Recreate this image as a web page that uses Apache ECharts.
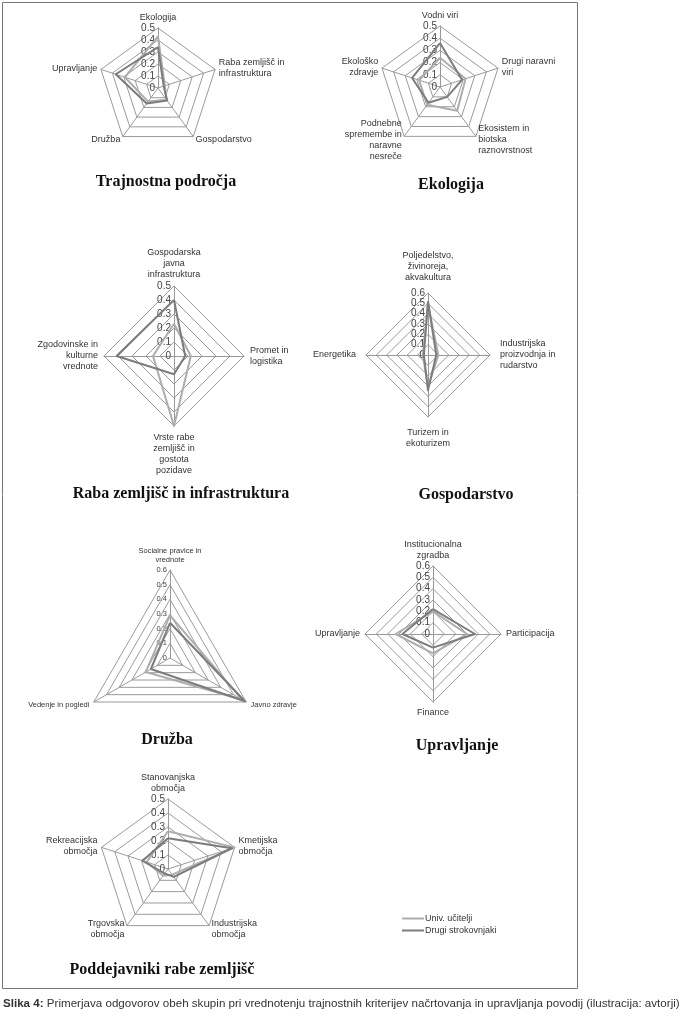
<!DOCTYPE html>
<html>
<head>
<meta charset="utf-8">
<script src="https://cdn.jsdelivr.net/npm/echarts@6/dist/echarts.min.js"></script>
<style>
  html, body { margin: 0; padding: 0; background: #fff; }
  #chart { width: 687px; height: 1021px; }
</style>
</head>
<body>
<div id="chart"></div>
<script>
// legenda
const seriesNames = ['Univ. učitelji', 'Drugi strokovnjaki'];

// Trajnostna področja
const trajAxes = ['Ekologija', 'Raba zemljišč in\ninfrastruktura', 'Gospodarstvo', 'Družba', 'Upravljanje'];
const trajUniv = [0.43, 0.06, 0.12, 0.14, 0.29];
const trajDrugi = [0.34, 0.05, 0.13, 0.16, 0.37];

// Ekologija
const ekoAxes = ['Vodni viri', 'Drugi naravni\nviri', 'Ekosistem in\nbiotska\nraznovrstnost', 'Podnebne\nspremembe in\nnaravne\nnesreče', 'Ekološko\nzdravje'];
const ekoUniv = [0.24, 0.22, 0.24, 0.18, 0.18];
const ekoDrugi = [0.36, 0.19, 0.10, 0.16, 0.24];

// Raba zemljišč in infrastruktura
const rabaAxes = ['Gospodarska\njavna\ninfrastruktura', 'Promet in\nlogistika', 'Vrste rabe\nzemljišč in\ngostota\npozidave', 'Zgodovinske in\nkulturne\nvrednote'];
const rabaUniv = [0.23, 0.12, 0.50, 0.15];
const rabaDrugi = [0.40, 0.08, 0.13, 0.41];

// Gospodarstvo
const gospAxes = ['Poljedelstvo,\nživinoreja,\nakvakultura', 'Industrijska\nproizvodnja in\nrudarstvo', 'Turizem in\nekoturizem', 'Energetika'];
const gospUniv = [0.49, 0.10, 0.31, 0.05];
const gospDrugi = [0.52, 0.08, 0.34, 0.04];

// Družba
const druzAxes = ['Socialne pravice in\nvrednote', 'Javno zdravje', 'Vedenje in pogledi'];
const druzUniv = [0.29, 0.57, 0.19];
const druzDrugi = [0.24, 0.59, 0.15];

// Upravljanje
const uprAxes = ['Institucionalna\nzgradba', 'Participacija', 'Finance', 'Upravljanje'];
const uprUniv = [0.20, 0.30, 0.17, 0.33];
const uprDrugi = [0.22, 0.37, 0.12, 0.27];

// Poddejavniki rabe zemljišč
const podAxes = ['Stanovanjska\nobmočja', 'Kmetijska\nobmočja', 'Industrijska\nobmočja', 'Trgovska\nobmočja', 'Rekreacijska\nobmočja'];
const podUniv = [0.27, 0.50, 0.05, 0.06, 0.16];
const podDrugi = [0.22, 0.48, 0.07, 0.04, 0.19];

const colors = ['#adadad', '#7c7c7c'];
const sans = "'Liberation Sans', Arial, sans-serif";

const panels = [
  { title: 'Trajnostna področja', axes: trajAxes, univ: trajUniv, drugi: trajDrugi, max: 0.5,
    center: [158, 88], radius: 60, titleAt: [166, 182], nameGap: 4, nameSize: 9, tickSize: 10 },
  { title: 'Ekologija', axes: ekoAxes, univ: ekoUniv, drugi: ekoDrugi, max: 0.5,
    center: [440, 87], radius: 61, titleAt: [451, 185], nameGap: 4, nameSize: 9, tickSize: 10 },
  { title: 'Raba zemljišč in infrastruktura', axes: rabaAxes, univ: rabaUniv, drugi: rabaDrugi, max: 0.5,
    center: [174, 356], radius: 70, titleAt: [181, 494], nameGap: 6, nameSize: 9, tickSize: 10 },
  { title: 'Gospodarstvo', axes: gospAxes, univ: gospUniv, drugi: gospDrugi, max: 0.6,
    center: [428, 355], radius: 62, titleAt: [466, 495], nameGap: 10, nameSize: 9, tickSize: 10 },
  { title: 'Družba', axes: druzAxes, univ: druzUniv, drugi: druzDrugi, max: 0.6,
    center: [170, 658], radius: 88, titleAt: [167, 740], nameGap: 5, nameSize: 7.5, tickSize: 7.5 },
  { title: 'Upravljanje', axes: uprAxes, univ: uprUniv, drugi: uprDrugi, max: 0.6,
    center: [433, 634], radius: 68, titleAt: [457, 746], nameGap: 5, nameSize: 9, tickSize: 10 },
  { title: 'Poddejavniki rabe zemljišč', axes: podAxes, univ: podUniv, drugi: podDrugi, max: 0.5,
    center: [168, 869], radius: 70, titleAt: [162, 970], nameGap: 4, nameSize: 9, tickSize: 10 }
];

// echarts riše kazalnike v nasprotni smeri urinega kazalca, Excel pa v smeri
const clockwise = arr => [arr[0]].concat(arr.slice(1).reverse());

const chart = echarts.init(document.getElementById('chart'));

const option = {
  animation: false,
  legend: {
    data: seriesNames,
    orient: 'vertical',
    left: 397,
    top: 909,
    icon: 'rect',
    itemWidth: 22,
    itemHeight: 2,
    itemGap: 3,
    textStyle: { fontSize: 9, fontFamily: sans, color: '#333', padding: [0, 0, 0, -4] }
  },
  radar: panels.map(p => ({
    center: p.center,
    radius: p.radius,
    startAngle: 90,
    shape: 'polygon',
    splitNumber: Math.round(p.max * 10),
    nameGap: p.nameGap,
    axisName: { color: '#333', fontSize: p.nameSize, fontFamily: sans, lineHeight: p.nameSize + 2 },
    indicator: clockwise(p.axes).map((n, i) => ({
      name: n, min: 0, max: p.max,
      axisLabel: i === 0 ? { show: true } : { show: false }
    })),
    splitLine: { lineStyle: { color: '#9a9a9a', width: 1 } },
    splitArea: { show: false },
    axisLine: { lineStyle: { color: '#9a9a9a', width: 1 } },
    axisTick: { show: false },
    axisLabel: {
      show: false, color: '#444', fontSize: p.tickSize, fontFamily: sans, margin: 3,
      formatter: v => String(Math.round(v * 10) / 10)
    }
  })),
  series: panels.map((p, i) => ({
    type: 'radar',
    radarIndex: i,
    symbol: 'none',
    data: [
      { name: seriesNames[0], value: clockwise(p.univ),
        itemStyle: { color: colors[0] }, lineStyle: { color: colors[0], width: 2 } },
      { name: seriesNames[1], value: clockwise(p.drugi),
        itemStyle: { color: colors[1] }, lineStyle: { color: colors[1], width: 2 } }
    ]
  })),
  graphic: [
    {
      type: 'rect',
      shape: { x: 2.5, y: 2.5, width: 575, height: 986 },
      style: { fill: 'none', stroke: '#777', lineWidth: 1 }
    },
    {
      type: 'text',
      x: 3,
      y: 1004,
      style: {
        text: '{b|Slika 4:} Primerjava odgovorov obeh skupin pri vrednotenju trajnostnih kriterijev načrtovanja in upravljanja povodij (ilustracija: avtorji)',
        verticalAlign: 'middle',
        fill: '#333',
        font: "11.6px 'Liberation Sans', Arial, sans-serif",
        rich: {
          b: { fontWeight: 'bold', fontSize: 11.6, fontFamily: sans, fill: '#333' }
        }
      }
    }
  ].concat(panels.map(p => ({
    type: 'text',
    x: p.titleAt[0],
    y: p.titleAt[1],
    style: {
      text: p.title,
      align: 'center',
      verticalAlign: 'middle',
      fill: '#111',
      font: "bold 16px 'Liberation Serif', 'Times New Roman', serif"
    }
  })))
};

chart.setOption(option);
</script>
</body>
</html>
